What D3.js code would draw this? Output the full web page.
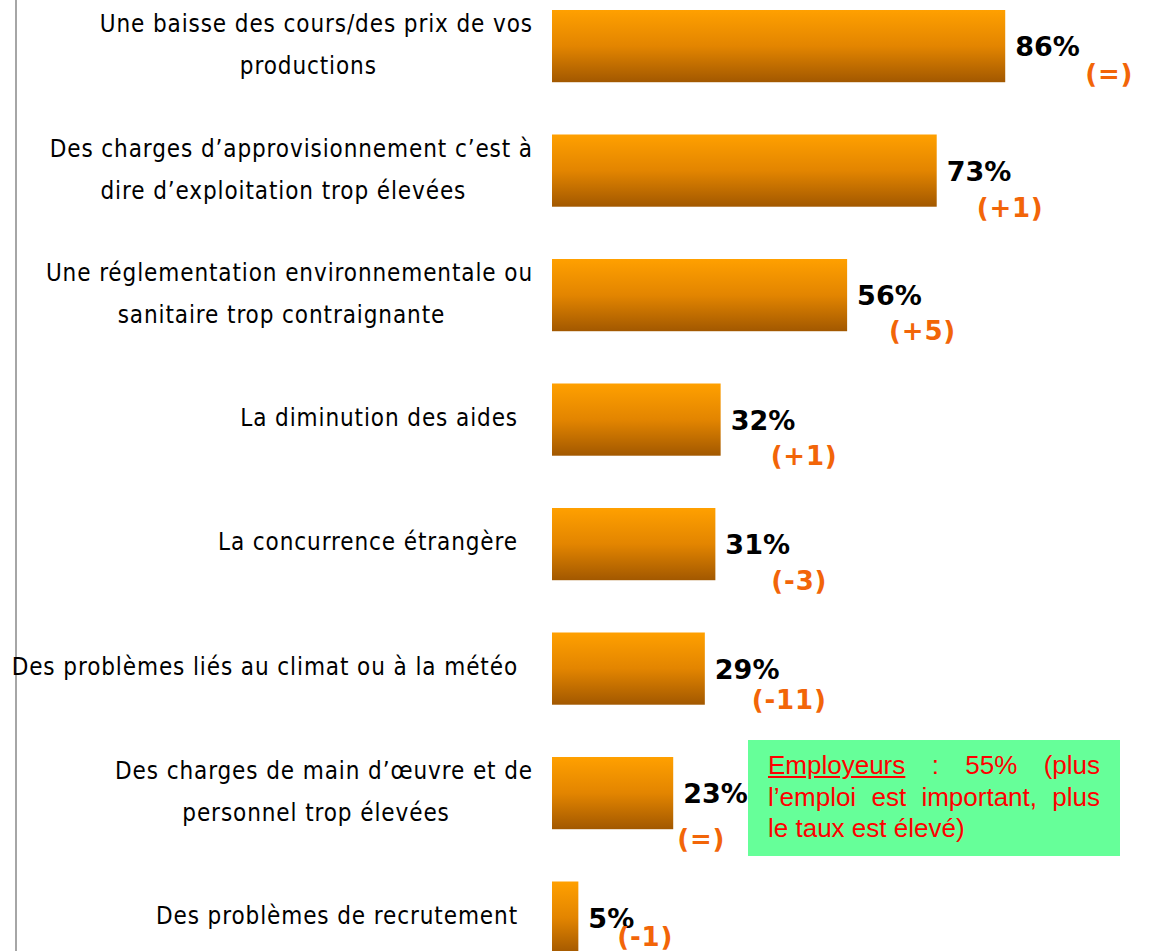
<!DOCTYPE html>
<html>
<head>
<meta charset="utf-8">
<script src="https://cdn.jsdelivr.net/npm/d3@7"></script>
<style>
  html, body { margin: 0; padding: 0; background: #fff; }
  svg { display: block; }
</style>
</head>
<body>
<svg id="chart" width="1151" height="951"></svg>
<script>
// 項目 (2 行のものは配列で)
const categories = [
  ["Une baisse des cours/des prix de vos", "productions"],
  ["Des charges d\u2019approvisionnement c\u2019est à", "dire d\u2019exploitation trop élevées"],
  ["Une réglementation environnementale ou", "sanitaire trop contraignante"],
  ["La diminution des aides"],
  ["La concurrence étrangère"],
  ["Des problèmes liés au climat ou à la météo"],
  ["Des charges de main d\u2019œuvre et de", "personnel trop élevées"],
  ["Des problèmes de recrutement"]
];
const values = [86, 73, 56, 32, 31, 29, 23, 5];
const changes = ["(=)", "(+1)", "(+5)", "(+1)", "(-3)", "(-11)", "(=)", "(-1)"];
const noteTitle = "Employeurs";
const noteText = " : 55% (plus l\u2019emploi est important, plus le taux est élevé)";

// 変化ラベルの位置調整 (バー右端からの dx, バー上端からの dy)
const changeNudge = [[80, 73], [40, 82], [42, 81], [50, 81], [56, 82], [47, 76], [4, 91], [39, 64]];

const svg = d3.select("#chart");
const ids = d3.range(values.length);

// スケール
const x = d3.scaleLinear().domain([0, 100]).range([552, 1079]);
const y = d3.scaleBand().domain(ids).range([10, 10 + 124.5 * 7.58]).paddingInner(0.42).paddingOuter(0);

// グラデーション
const grad = svg.append("defs").append("linearGradient")
  .attr("id", "barGrad").attr("x1", 0).attr("y1", 0).attr("x2", 0).attr("y2", 1);
grad.append("stop").attr("offset", "0%").attr("stop-color", "#ffa000");
grad.append("stop").attr("offset", "50%").attr("stop-color", "#e38500");
grad.append("stop").attr("offset", "100%").attr("stop-color", "#a25800");

// 左の縦線
svg.append("line")
  .attr("x1", 16).attr("x2", 16).attr("y1", 0).attr("y2", 951)
  .attr("stroke", "#a6a6a6").attr("stroke-width", 2);

// バー
svg.selectAll("rect.bar").data(ids).join("rect")
  .attr("class", "bar")
  .attr("x", x(0))
  .attr("y", i => y(i))
  .attr("width", i => x(values[i]) - x(0))
  .attr("height", y.bandwidth())
  .attr("fill", "url(#barGrad)");

// 項目ラベル
const labelStyle = sel => sel
  .attr("font-family", "'DejaVu Sans Condensed', 'DejaVu Sans', sans-serif")
  .attr("font-stretch", "condensed")
  .attr("font-size", 24)
  .attr("letter-spacing", 0.9)
  .attr("fill", "#000");

ids.forEach(i => {
  const lines = categories[i];
  const cy = y(i) + y.bandwidth() / 2;
  if (lines.length === 1) {
    svg.append("text")
      .attr("x", 518).attr("y", cy + 6)
      .attr("text-anchor", "end")
      .call(labelStyle)
      .text(lines[0]);
  } else {
    const t1 = svg.append("text")
      .attr("x", 533).attr("y", cy - 14)
      .attr("text-anchor", "end")
      .call(labelStyle)
      .text(lines[0]);
    const w1 = t1.node().getComputedTextLength();
    svg.append("text")
      .attr("x", 533 - w1 / 2 - 8).attr("y", cy + 28)
      .attr("text-anchor", "middle")
      .call(labelStyle)
      .text(lines[1]);
  }
});

// 値ラベル
svg.selectAll("text.val").data(ids).join("text")
  .attr("class", "val")
  .attr("x", i => x(values[i]) + 10)
  .attr("y", i => y(i) + 46)
  .attr("font-family", "'DejaVu Sans', sans-serif")
  .attr("font-weight", "bold")
  .attr("font-size", 27)
  .attr("fill", "#000")
  .text(i => values[i] + "%");

// 変化ラベル
svg.selectAll("text.chg").data(ids).join("text")
  .attr("class", "chg")
  .attr("x", i => x(values[i]) + changeNudge[i][0])
  .attr("y", i => y(i) + changeNudge[i][1])
  .attr("font-family", "'DejaVu Sans', sans-serif")
  .attr("font-weight", "bold")
  .attr("font-size", 26)
  .attr("letter-spacing", 0.8)
  .attr("fill", "#f26508")
  .text(i => changes[i]);

// 緑の注記ボックス (値ラベルの上に重ねる)
svg.append("rect")
  .attr("x", 748).attr("y", 740).attr("width", 372).attr("height", 116)
  .attr("fill", "#66ff99");
const fo = svg.append("foreignObject")
  .attr("x", 768).attr("y", 750).attr("width", 332).attr("height", 104);
const div = fo.append("xhtml:div")
  .style("font-family", "'Liberation Sans', Arial, sans-serif")
  .style("font-size", "26px")
  .style("line-height", "31.5px")
  .style("color", "#ff0000")
  .style("text-align", "justify")
  .style("margin", 0);
div.append("xhtml:span").style("text-decoration", "underline").text(noteTitle);
div.append("xhtml:span").text(noteText);
</script>
</body>
</html>
